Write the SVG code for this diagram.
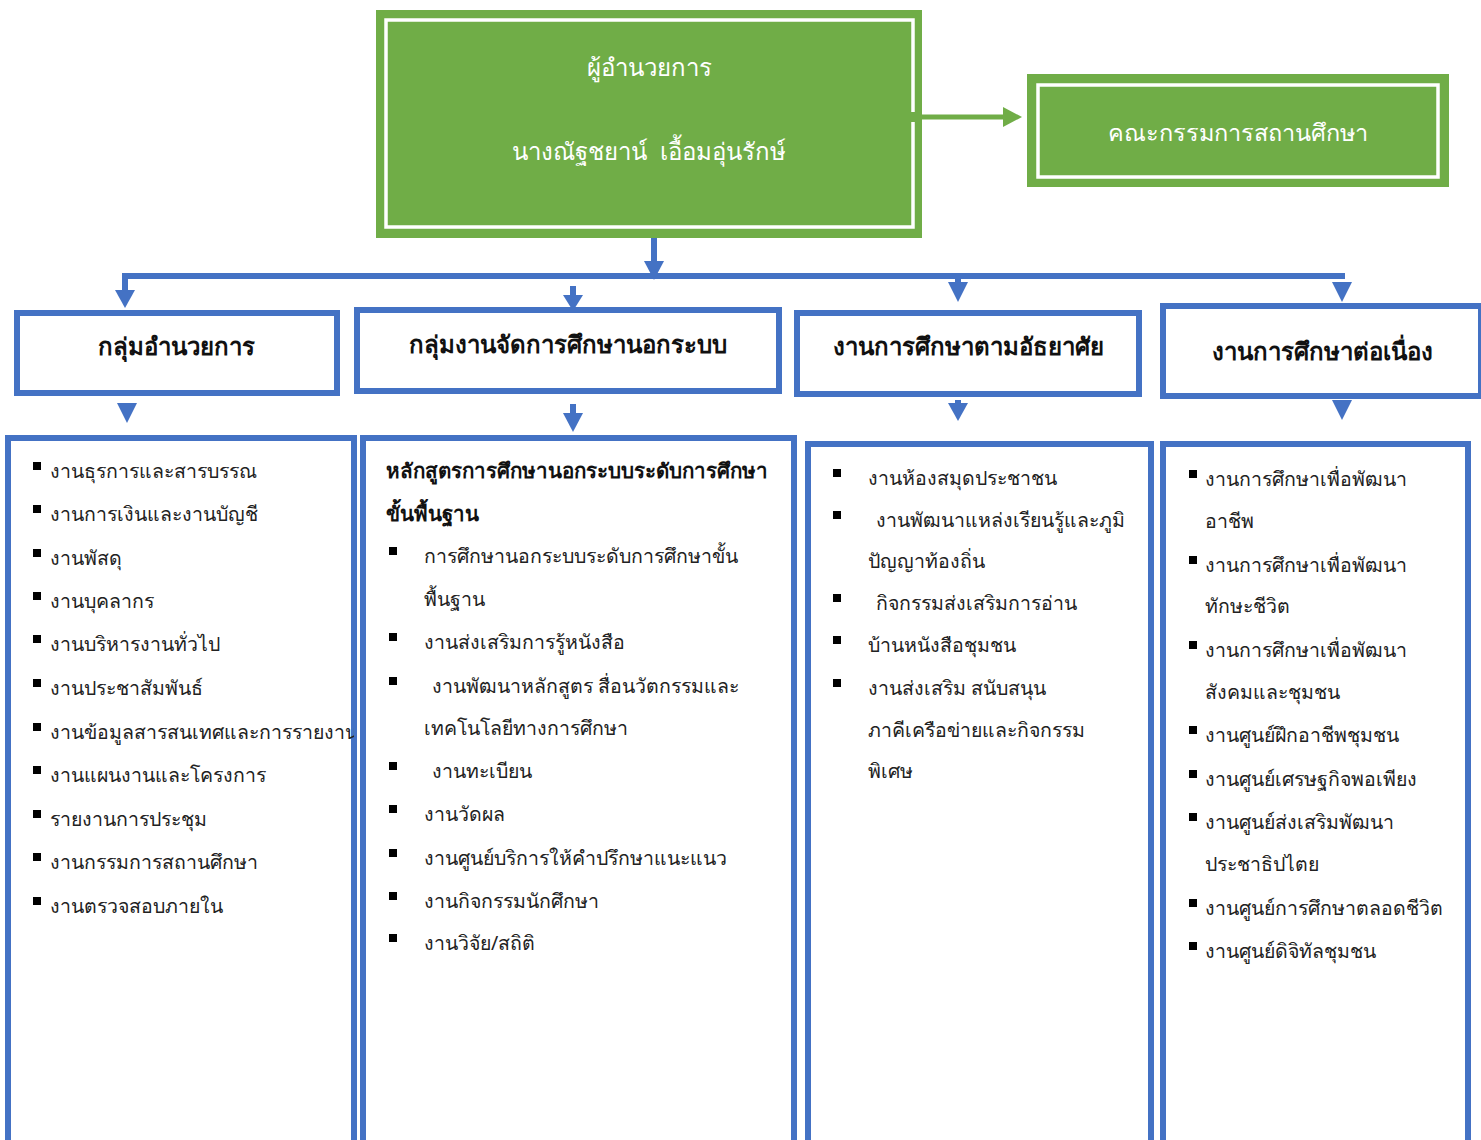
<svg xmlns="http://www.w3.org/2000/svg" width="1481" height="1140" viewBox="0 0 1481 1140">
<style>
.g{fill:#70AD47;}
.gw{fill:none;stroke:#fff;stroke-width:3.5;}
.bb{fill:#fff;stroke:#4472C4;stroke-width:6;}
.wt{font-family:"Noto Sans","DejaVu Sans",sans-serif;font-size:24px;fill:#fff;text-anchor:middle;}
.ht{font-family:"Noto Sans","DejaVu Sans",sans-serif;font-size:24px;fill:#111;text-anchor:middle;font-weight:bold;}
.t{font-family:"Noto Sans","DejaVu Sans",sans-serif;font-size:19.5px;fill:#222;}
.tb{font-family:"Noto Sans","DejaVu Sans",sans-serif;font-size:20.5px;fill:#111;font-weight:bold;}
.bl{fill:#000;}
.cb{fill:#4472C4;}
.cg{fill:#70AD47;}
</style>
<defs>
<clipPath id="c1"><rect x="8" y="437" width="346" height="703"/></clipPath>
</defs>
<g id="connectors">
<rect class="cg" x="913" y="114.5" width="92" height="5"/>
<polygon class="cg" points="1003,107 1003,127 1022,117"/>
<rect class="cb" x="651" y="231" width="6" height="32"/>
<polygon class="cb" points="644,261 664,261 654,280"/>
<rect class="cb" x="122" y="273" width="1223" height="6"/>
<rect class="cb" x="122" y="276" width="6" height="15"/>
<polygon class="cb" points="115,290 135,290 125,308"/>
<rect class="cb" x="570" y="286" width="6" height="11"/>
<polygon class="cb" points="563,295 583,295 573,311"/>
<rect class="cb" x="955" y="276" width="6" height="8"/>
<polygon class="cb" points="948,282 968,282 958,302"/>
<polygon class="cb" points="1332,282 1352,282 1342,302"/>
<polygon class="cb" points="117,403 137,403 127,423"/>
<rect class="cb" x="570" y="404" width="6" height="11"/>
<polygon class="cb" points="563,413 583,413 573,432"/>
<rect class="cb" x="955" y="400" width="6" height="6"/>
<polygon class="cb" points="948,403 968,403 958,421"/>
<polygon class="cb" points="1332,400 1352,400 1342,420"/>
</g>
<g id="director">
<rect class="g" x="376" y="10" width="546" height="228"/>
<path class="gw" d="M913,112 V20 H386 V227 H913 V122"/>
<text class="wt" x="649" y="76">ผู้อำนวยการ</text>
<text class="wt" x="649" y="160" xml:space="preserve">นางณัฐชยาน์  เอื้อมอุ่นรักษ์</text>
</g>
<g id="committee">
<rect class="g" x="1027" y="74" width="422" height="113"/>
<rect class="gw" x="1038" y="85" width="400" height="92"/>
<text class="wt" x="1238" y="141" style="font-size:23.5px">คณะกรรมการสถานศึกษา</text>
</g>
<g id="group1">
<rect class="bb" x="17" y="313" width="320" height="80"/>
<text class="ht" x="176" y="355">กลุ่มอำนวยการ</text>
</g>
<g id="group2">
<rect class="bb" x="357" y="310" width="422" height="81"/>
<text class="ht" x="568" y="353">กลุ่มงานจัดการศึกษานอกระบบ</text>
</g>
<g id="group3">
<rect class="bb" x="797" y="313" width="342" height="81"/>
<text class="ht" x="968" y="355">งานการศึกษาตามอัธยาศัย</text>
</g>
<g id="group4">
<rect class="bb" x="1163" y="306" width="318" height="90"/>
<text class="ht" x="1322" y="360">งานการศึกษาต่อเนื่อง</text>
</g>
<g id="list1">
<rect class="bb" x="8" y="438" width="346" height="710"/>
<g class="bl">
<rect x="33" y="462" width="8" height="8"/><rect x="33" y="505" width="8" height="8"/><rect x="33" y="549" width="8" height="8"/><rect x="33" y="592" width="8" height="8"/><rect x="33" y="635" width="8" height="8"/><rect x="33" y="679" width="8" height="8"/><rect x="33" y="723" width="8" height="8"/><rect x="33" y="766" width="8" height="8"/><rect x="33" y="810" width="8" height="8"/><rect x="33" y="853" width="8" height="8"/><rect x="33" y="897" width="8" height="8"/>
</g>
<g class="t" clip-path="url(#c1)">
<text x="50" y="478">งานธุรการและสารบรรณ</text>
<text x="50" y="521">งานการเงินและงานบัญชี</text>
<text x="50" y="565">งานพัสดุ</text>
<text x="50" y="608">งานบุคลากร</text>
<text x="50" y="651">งานบริหารงานทั่วไป</text>
<text x="50" y="695">งานประชาสัมพันธ์</text>
<text x="50" y="739">งานข้อมูลสารสนเทศและการรายงาน</text>
<text x="50" y="782">งานแผนงานและโครงการ</text>
<text x="50" y="826">รายงานการประชุม</text>
<text x="50" y="869">งานกรรมการสถานศึกษา</text>
<text x="50" y="913">งานตรวจสอบภายใน</text>
</g>
</g>
<g id="list2">
<rect class="bb" x="363" y="438" width="431" height="710"/>
<text class="tb" x="386" y="478">หลักสูตรการศึกษานอกระบบระดับการศึกษา</text>
<text class="tb" x="386" y="521">ขั้นพื้นฐาน</text>
<g class="bl">
<rect x="389" y="547" width="8" height="8"/><rect x="389" y="633" width="8" height="8"/><rect x="389" y="677" width="8" height="8"/><rect x="389" y="762" width="8" height="8"/><rect x="389" y="805" width="8" height="8"/><rect x="389" y="849" width="8" height="8"/><rect x="389" y="892" width="8" height="8"/><rect x="389" y="934" width="8" height="8"/>
</g>
<g class="t">
<text x="424" y="563">การศึกษานอกระบบระดับการศึกษาขั้น</text>
<text x="424" y="606">พื้นฐาน</text>
<text x="424" y="649">งานส่งเสริมการรู้หนังสือ</text>
<text x="432" y="693">งานพัฒนาหลักสูตร สื่อนวัตกรรมและ</text>
<text x="424" y="735">เทคโนโลยีทางการศึกษา</text>
<text x="432" y="778">งานทะเบียน</text>
<text x="424" y="821">งานวัดผล</text>
<text x="424" y="865">งานศูนย์บริการให้คำปรึกษาแนะแนว</text>
<text x="424" y="908">งานกิจกรรมนักศึกษา</text>
<text x="424" y="950">งานวิจัย/สถิติ</text>
</g>
</g>
<g id="list3">
<rect class="bb" x="808" y="444" width="343" height="704"/>
<g class="bl">
<rect x="833" y="469" width="8" height="8"/><rect x="833" y="511" width="8" height="8"/><rect x="833" y="594" width="8" height="8"/><rect x="833" y="636" width="8" height="8"/><rect x="833" y="679" width="8" height="8"/>
</g>
<g class="t">
<text x="868" y="485">งานห้องสมุดประชาชน</text>
<text x="876" y="527">งานพัฒนาแหล่งเรียนรู้และภูมิ</text>
<text x="868" y="568">ปัญญาท้องถิ่น</text>
<text x="876" y="610">กิจกรรมส่งเสริมการอ่าน</text>
<text x="868" y="652">บ้านหนังสือชุมชน</text>
<text x="868" y="695">งานส่งเสริม สนับสนุน</text>
<text x="868" y="737">ภาคีเครือข่ายและกิจกรรม</text>
<text x="868" y="778">พิเศษ</text>
</g>
</g>
<g id="list4">
<rect class="bb" x="1163" y="444" width="305" height="704"/>
<g class="bl">
<rect x="1189" y="470" width="8" height="8"/><rect x="1189" y="556" width="8" height="8"/><rect x="1189" y="641" width="8" height="8"/><rect x="1189" y="726" width="8" height="8"/><rect x="1189" y="770" width="8" height="8"/><rect x="1189" y="813" width="8" height="8"/><rect x="1189" y="899" width="8" height="8"/><rect x="1189" y="942" width="8" height="8"/>
</g>
<g class="t">
<text x="1205" y="486">งานการศึกษาเพื่อพัฒนา</text>
<text x="1205" y="528">อาชีพ</text>
<text x="1205" y="572">งานการศึกษาเพื่อพัฒนา</text>
<text x="1205" y="613">ทักษะชีวิต</text>
<text x="1205" y="657">งานการศึกษาเพื่อพัฒนา</text>
<text x="1205" y="699">สังคมและชุมชน</text>
<text x="1205" y="742">งานศูนย์ฝึกอาชีพชุมชน</text>
<text x="1205" y="786">งานศูนย์เศรษฐกิจพอเพียง</text>
<text x="1205" y="829">งานศูนย์ส่งเสริมพัฒนา</text>
<text x="1205" y="871">ประชาธิปไตย</text>
<text x="1205" y="915">งานศูนย์การศึกษาตลอดชีวิต</text>
<text x="1205" y="958">งานศูนย์ดิจิทัลชุมชน</text>
</g>
</g>
</svg>
